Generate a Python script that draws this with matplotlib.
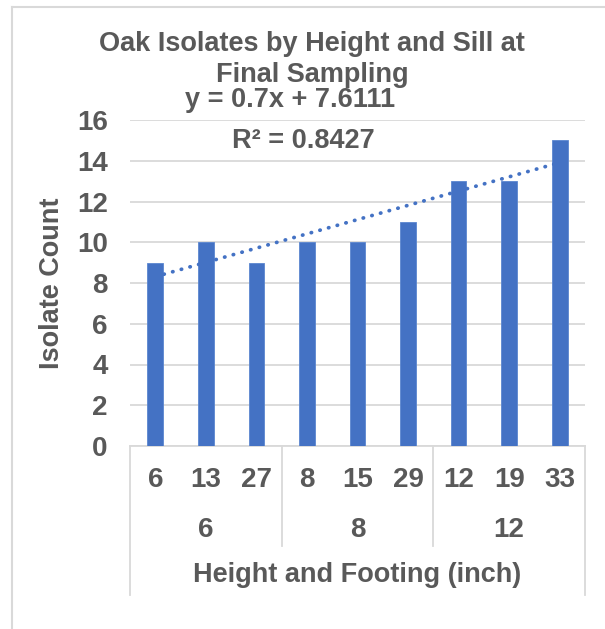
import matplotlib
matplotlib.use("Agg")
import matplotlib.pyplot as plt
from matplotlib.transforms import blended_transform_factory
import numpy as np

# Isolate counts per footing, grouped by height
footing_labels = ["6", "13", "27", "8", "15", "29", "12", "19", "33"]
height_groups = ["6", "8", "12"]
group_sizes = [3, 3, 3]
isolate_counts = [9, 10, 9, 10, 10, 11, 13, 13, 15]

# Linear trendline reported for the series
slope = 0.7
intercept = 7.6111
r_squared = 0.8427

BAR = "#4472C4"
TXT = "#595959"
GRID = "#D9D9D9"
FONT = ["Liberation Sans", "DejaVu Sans"]
FS = 19.5

W, H = 605, 629
fig = plt.figure(figsize=(W / 100, H / 100), dpi=100)
fig.patch.set_facecolor("white")

# plot area in pixels: left 130, right 585, top 120, bottom 446
ax = fig.add_axes([130 / W, (H - 446) / H, 455 / W, 326 / H])

n = len(isolate_counts)
x = np.arange(n)
ax.bar(x, isolate_counts, width=0.31, color=BAR, edgecolor="#5B86D0",
       linewidth=0.6, zorder=3)

# dotted linear trendline across the categories (x counted from 1)
xt = np.linspace(1, n, 100)
ax.plot(xt - 1, slope * xt + intercept, color=BAR, linestyle=(0, (0.1, 2.3)),
        linewidth=2.7, dash_capstyle="round", zorder=4)

ax.set_xlim(-0.5, n - 0.5)
ax.set_ylim(0, 16)
ax.set_yticks(np.arange(0, 17, 2))
ax.set_yticklabels([str(v) for v in range(0, 17, 2)], fontsize=FS + 0.5,
                   fontweight="bold", color=TXT, family=FONT)
ax.tick_params(axis="y", length=0, pad=16)
ax.set_xticks([])
ax.grid(axis="y", color=GRID, linewidth=1.3, zorder=0)
for s in ax.spines.values():
    s.set_visible(False)

tr = blended_transform_factory(ax.transData, ax.transAxes)
px = lambda p: -p / 326.0  # pixels below the axis, as axes fraction

# category axis: baseline and group separators
ax.plot([-0.5, n - 0.5], [0, 0], color=GRID, linewidth=1.3, transform=tr,
        clip_on=False, zorder=2)
bounds = np.concatenate([[0], np.cumsum(group_sizes)]) - 0.5
for i, b in enumerate(bounds):
    depth = 149 if i in (0, len(bounds) - 1) else 100
    ax.plot([b, b], [0, px(depth)], color=GRID, linewidth=1.3, transform=tr,
            clip_on=False)

for xi, lab in zip(x, footing_labels):
    ax.text(xi, px(34), lab, transform=tr, ha="center", va="center",
            fontsize=FS + 0.5, fontweight="bold", color=TXT, family=FONT)
starts = np.concatenate([[0], np.cumsum(group_sizes)[:-1]])
for st, sz, lab in zip(starts, group_sizes, height_groups):
    ax.text(st + (sz - 1) / 2, px(84), lab, transform=tr, ha="center",
            va="center", fontsize=FS + 0.5, fontweight="bold", color=TXT,
            family=FONT)

ax.text((n - 1) / 2, px(129), "Height and Footing (inch)", transform=tr,
        ha="center", va="center", fontsize=FS, fontweight="bold", color=TXT,
        family=FONT)

fig.text(52 / W, 1 - 283 / H, "Isolate Count", rotation=90, ha="center",
         va="center", fontsize=FS, fontweight="bold", color=TXT, family=FONT)

fig.text(312 / W, 1 - 44 / H, "Oak Isolates by Height and Sill at",
         ha="center", va="center", fontsize=FS, fontweight="bold", color=TXT,
         family=FONT)
fig.text(312 / W, 1 - 75 / H, "Final Sampling", ha="center", va="center",
         fontsize=FS, fontweight="bold", color=TXT, family=FONT)

fig.text(290 / W, 1 - 100 / H, f"y = {slope}x + {intercept}", ha="center",
         va="center", fontsize=FS, fontweight="bold", color=TXT, family=FONT)
fig.text(303 / W, 1 - 141 / H, f"R² = {r_squared}", ha="center", va="center",
         fontsize=FS, fontweight="bold", color=TXT, family=FONT)

# chart frame (top and left edges)
fig.add_artist(plt.Line2D([12 / W, 1], [1 - 7 / H, 1 - 7 / H], color=GRID,
                          linewidth=1.5, transform=fig.transFigure))
fig.add_artist(plt.Line2D([12 / W, 12 / W], [0, 1 - 7 / H], color=GRID,
                          linewidth=1.5, transform=fig.transFigure))

fig.savefig("out.png", dpi=100)
